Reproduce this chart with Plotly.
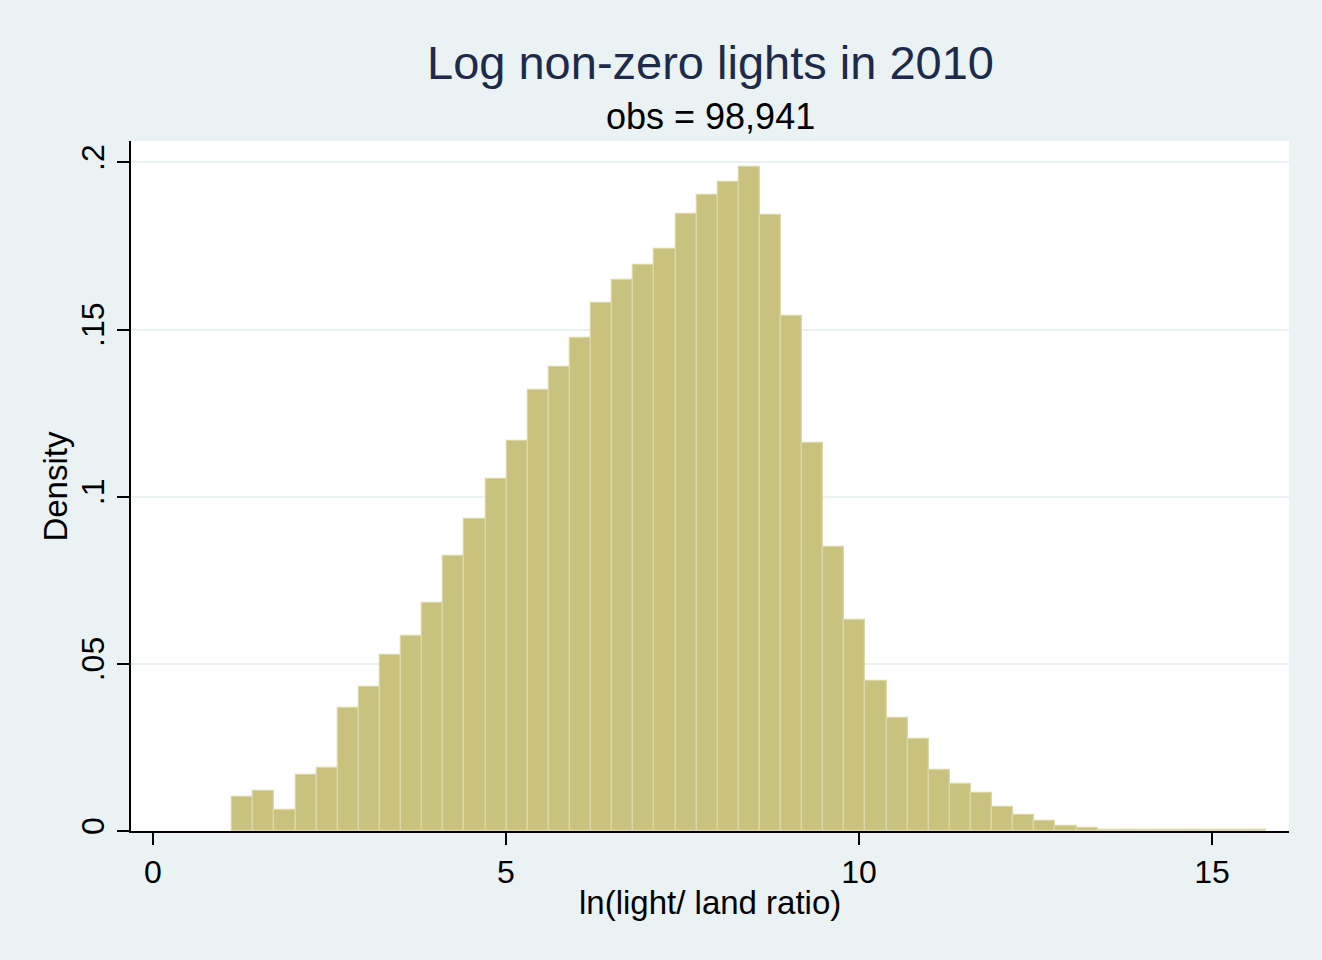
import plotly.graph_objects as go

# Histogram data (Stata-style, 49 bins)
bin_start = 1.125
bin_width = 0.2989
density = [
    0.0101, 0.0119, 0.0062, 0.0169, 0.0187, 0.0368, 0.0431, 0.0525, 0.0583, 0.0682,
    0.0823, 0.0934, 0.1054, 0.1168, 0.1318, 0.1388, 0.1476, 0.1580, 0.1648, 0.1694,
    0.1741, 0.1846, 0.1903, 0.1942, 0.1986, 0.1843, 0.1541, 0.1161, 0.0850, 0.0631,
    0.0448, 0.0337, 0.0274, 0.0181, 0.0142, 0.0115, 0.0073, 0.0049, 0.0031, 0.0014,
    0.0010, 0.0004, 0.0003, 0.0003, 0.0003, 0.0002, 0.0002, 0.0002, 0.0002,
]
centers = [bin_start + (i + 0.5) * bin_width for i in range(len(density))]

x_ticks = [0, 5, 10, 15]
y_ticks = [0, 0.05, 0.1, 0.15, 0.2]
y_tick_labels = ["0", ".05", ".1", ".15", ".2"]

title_text = "Log non-zero lights in 2010"
subtitle_text = "obs = 98,941"
x_title = "ln(light/ land ratio)"
y_title = "Density"

FONT = "Liberation Sans, Arial, sans-serif"
BG = "#EAF2F3"

fig = go.Figure()
fig.add_trace(go.Bar(
    x=centers, y=density, width=bin_width,
    marker=dict(color="#C9C17E", line=dict(color="#DCD7A6", width=1.3)),
    hoverinfo="x+y",
))

fig.update_layout(
    width=1322, height=960,
    paper_bgcolor=BG, plot_bgcolor="white",
    margin=dict(l=131, r=33, t=141, b=129),
    showlegend=False, bargap=0,
    font=dict(family=FONT, color="black", size=32),
    xaxis=dict(
        range=[-0.309, 16.09], tickvals=x_ticks, ticktext=[str(v) for v in x_ticks],
        showgrid=False, zeroline=False, showline=True, linecolor="black", linewidth=2,
        ticks="outside", ticklen=12, tickwidth=2, tickcolor="black",
        tickfont=dict(size=32, family=FONT, color="black"),
    ),
    yaxis=dict(
        range=[0, 0.2064], tickvals=y_ticks, ticktext=y_tick_labels, tickangle=-90,
        showgrid=True, gridcolor=BG, gridwidth=2, zeroline=False,
        showline=True, linecolor="black", linewidth=2,
        ticks="outside", ticklen=12, tickwidth=2, tickcolor="black",
        tickfont=dict(size=32, family=FONT, color="black"),
    ),
    annotations=[
        dict(text=title_text, xref="paper", yref="paper", x=0.5, y=1.114,
             xanchor="center", yanchor="middle", showarrow=False,
             font=dict(size=47, family=FONT, color="#1E2A4A")),
        dict(text=subtitle_text, xref="paper", yref="paper", x=0.5, y=1.036,
             xanchor="center", yanchor="middle", showarrow=False,
             font=dict(size=36, family=FONT, color="black")),
        dict(text=x_title, xref="paper", yref="paper", x=0.5, y=-0.1036,
             xanchor="center", yanchor="middle", showarrow=False,
             font=dict(size=33, family=FONT, color="black")),
        dict(text=y_title, xref="paper", yref="paper", x=-0.066, y=0.5,
             xanchor="center", yanchor="middle", showarrow=False, textangle=-90,
             font=dict(size=33, family=FONT, color="black")),
    ],
)

fig.write_html(
    "out.html",
    config={"displayModeBar": False},
    post_script="document.body.style.margin='0';document.body.style.overflow='hidden';",
)
